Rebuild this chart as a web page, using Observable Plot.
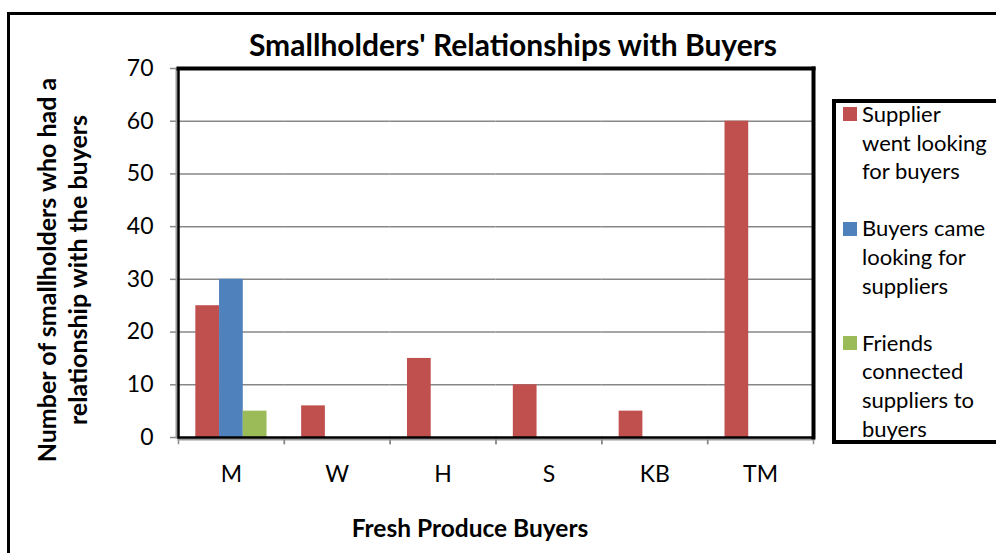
<!DOCTYPE html>
<html><head><meta charset="utf-8">
<script src="https://cdn.jsdelivr.net/npm/d3@7"></script>
<script src="https://cdn.jsdelivr.net/npm/@observablehq/plot@0.6"></script>
<style>
html,body{margin:0;padding:0;background:#fff;}
#page{position:relative;width:996px;height:553px;overflow:hidden;font-family:Lato,sans-serif;color:#000;background:#fff;}
#outer{position:absolute;left:7px;top:12px;width:1100px;height:700px;border:3.5px solid #000;box-sizing:border-box;}
#chart{position:absolute;left:0;top:0;}
#title{position:absolute;left:0;width:1026px;top:29px;text-align:center;font-weight:bold;font-size:30px;line-height:30px;white-space:nowrap;}
#xtitle{position:absolute;left:270px;width:400px;top:516px;text-align:center;font-weight:bold;font-size:24.5px;line-height:24.5px;white-space:nowrap;}
#ytitle{position:absolute;width:480px;height:62px;left:-178px;top:239px;text-align:center;font-weight:bold;font-size:25px;line-height:31px;transform:rotate(-90deg);transform-origin:50% 50%;white-space:nowrap;}
#legendbox{position:absolute;left:832px;top:99px;width:200px;height:345px;border:4px solid #000;box-sizing:border-box;background:#fff;}
#legend{position:absolute;left:843px;top:100px;font-size:22px;line-height:28.6px;white-space:nowrap;}
.item{display:flex;align-items:flex-start;margin-bottom:28.6px;}
.sw{width:14px;height:14px;margin-top:7.3px;margin-right:5px;flex:none;}
</style></head>
<body>
<div id="page">
  <div id="outer"></div>
  <div id="chart"></div>
  <div id="title"></div>
  <div id="xtitle"></div>
  <div id="ytitle"></div>
  <div id="legendbox"></div>
  <div id="legend"></div>
</div>
<script>
// ---- data ----
const categories = ["M", "W", "H", "S", "KB", "TM"];
const series = [
  "Supplier went looking for buyers",
  "Buyers came looking for suppliers",
  "Friends connected suppliers to buyers"
];
const supplierWentLooking = [25, 6, 15, 10, 5, 60];
const buyersCameLooking   = [30, 0, 0, 0, 0, 0];
const friendsConnected    = [5, 0, 0, 0, 0, 0];
const yTicks = [0, 10, 20, 30, 40, 50, 60, 70];
const legendLines = [
  ["Supplier", "went looking", "for buyers"],
  ["Buyers came", "looking for", "suppliers"],
  ["Friends", "connected", "suppliers to", "buyers"]
];
const colors = ["#C0504D", "#4F81BD", "#9BBB59"];
const titleText = "Smallholders' Relationships with Buyers";
const xTitle = "Fresh Produce Buyers";
const yTitleLines = ["Number of smallholders who had a", "relationship with the buyers"];

// ---- table ----
const seriesValues = [supplierWentLooking, buyersCameLooking, friendsConnected];
const table = categories.flatMap((c, i) =>
  series.map((s, j) => ({category: c, series: s, value: seriesValues[j][i]})));

const chart = Plot.plot({
  width: 996,
  height: 553,
  marginLeft: 178,
  marginRight: 183,
  marginTop: 68,
  marginBottom: 116,
  style: {fontFamily: "Lato, sans-serif", background: "transparent", overflow: "visible", color: "#000"},
  fx: {domain: categories, padding: 0, round: false, label: null},
  x: {domain: series, paddingInner: 0, paddingOuter: 0.73, round: false, axis: null},
  y: {domain: [0, 70], label: null},
  color: {domain: series, range: colors},
  marks: [
    Plot.gridY(yTicks.slice(1, -1), {stroke: "#878787", strokeOpacity: 1, strokeWidth: 1.5}),
    Plot.axisY(yTicks, {tickSize: 8, stroke: "#888", strokeWidth: 1.5, tickFormat: () => "", label: null}),
    Plot.axisY(yTicks, {tickSize: 0, tickPadding: 25, fontSize: 23, fill: "#000", label: null}),
    Plot.axisFx({anchor: "bottom", tickSize: 0, tickPadding: 28, fontSize: 23, fill: "#000", label: null}),
    Plot.barY(table, {fx: "category", x: "series", y: "value", fill: "series"}),
    Plot.frame({anchor: "left", stroke: "#888", strokeWidth: 1.5, insetTop: 369, insetBottom: -6}),
    Plot.frame({anchor: "right", stroke: "#888", strokeWidth: 1.5, insetTop: 369, insetBottom: -6}),
    Plot.frame({facet: "super", anchor: "left", stroke: "#999", strokeWidth: 2, insetLeft: -2}),
    Plot.frame({facet: "super", anchor: "bottom", stroke: "#999", strokeWidth: 2, insetBottom: -2}),
    Plot.frame({facet: "super", stroke: "#000", strokeWidth: 2.5}),
    Plot.frame({facet: "super", anchor: "top", stroke: "#000", strokeWidth: 4}),
    Plot.frame({facet: "super", anchor: "right", stroke: "#000", strokeWidth: 4})
  ]
});
document.getElementById("chart").appendChild(chart);

document.getElementById("title").textContent = titleText;
document.getElementById("xtitle").textContent = xTitle;
const yt = document.getElementById("ytitle");
yTitleLines.forEach((l, i) => { if (i) yt.appendChild(document.createElement("br")); yt.appendChild(document.createTextNode(l)); });

const legend = document.getElementById("legend");
series.forEach((s, i) => {
  const item = document.createElement("div");
  item.className = "item";
  const sw = document.createElement("span");
  sw.className = "sw";
  sw.style.background = colors[i];
  const txt = document.createElement("div");
  legendLines[i].forEach((l, k) => { if (k) txt.appendChild(document.createElement("br")); txt.appendChild(document.createTextNode(l)); });
  item.appendChild(sw);
  item.appendChild(txt);
  legend.appendChild(item);
});
</script>
</body></html>
